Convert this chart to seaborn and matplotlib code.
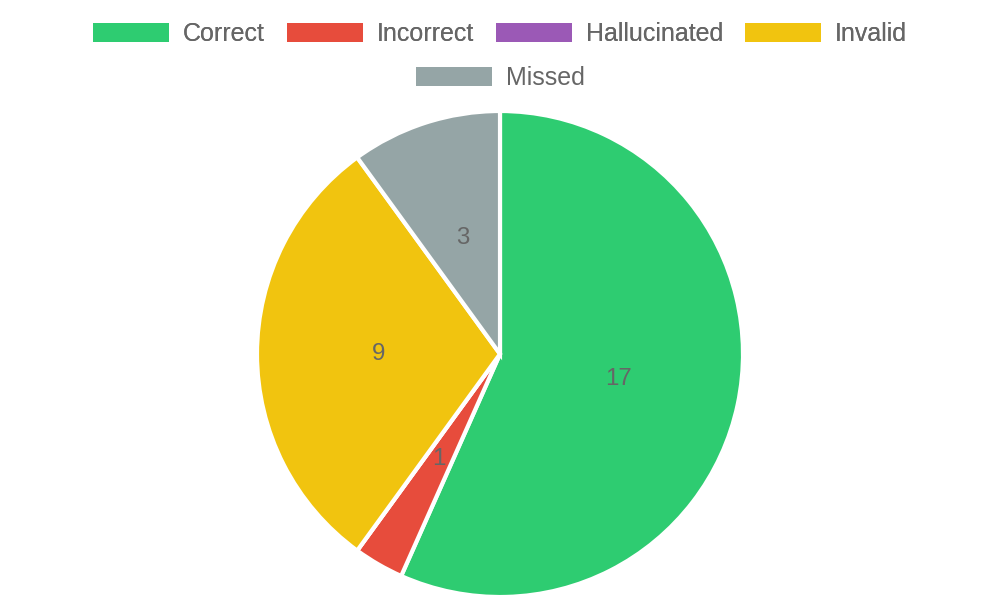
import numpy as np
import matplotlib
matplotlib.use("Agg")
import matplotlib.pyplot as plt
import matplotlib.patches as mpatches
import seaborn as sns

sns.set_style("white")
plt.rcParams["font.family"] = ["Liberation Sans", "DejaVu Sans"]

# data
categories = ["Correct", "Incorrect", "Hallucinated", "Invalid", "Missed"]
counts = [17, 1, 0, 9, 3]
colors = sns.color_palette(["#2ecc71", "#e74c3c", "#9b59b6", "#f1c40f", "#95a5a6"])

total = sum(counts)
text_color = "#666666"
fs = 18

fig = plt.figure(figsize=(10, 6), dpi=100)
ax = fig.add_axes([0.257, 0.005, 0.486, 0.81])


def fmt(p):
    v = int(round(p * total / 100))
    return str(v) if v > 0 else ""


wedges, texts, autotexts = ax.pie(
    counts,
    colors=colors,
    startangle=90,
    counterclock=False,
    autopct=fmt,
    pctdistance=0.5,
    wedgeprops={"edgecolor": "white", "linewidth": 3},
    textprops={"color": text_color, "fontsize": 17.3},
)
ax.set_aspect("equal")
ax.set_xlim(-1.0, 1.0)
ax.set_ylim(-1.0, 1.0)

# legend, two rows like the original
handles = [mpatches.Patch(facecolor=c, edgecolor="none") for c in colors]
leg_kw = dict(
    loc="center",
    frameon=False,
    fontsize=fs,
    handlelength=3.04,
    handleheight=0.8,
    handletextpad=0.56,
    columnspacing=0.88,
    borderpad=0,
    labelcolor=text_color,
)
leg1 = fig.legend(handles[:4], categories[:4], ncol=4,
                  bbox_to_anchor=(0.5, 1 - 34 / 600), **leg_kw)
fig.add_artist(leg1)
fig.legend(handles[4:], categories[4:], ncol=1,
           bbox_to_anchor=(0.5, 1 - 78 / 600), **leg_kw)

fig.savefig("out.png", dpi=100, facecolor="white")
